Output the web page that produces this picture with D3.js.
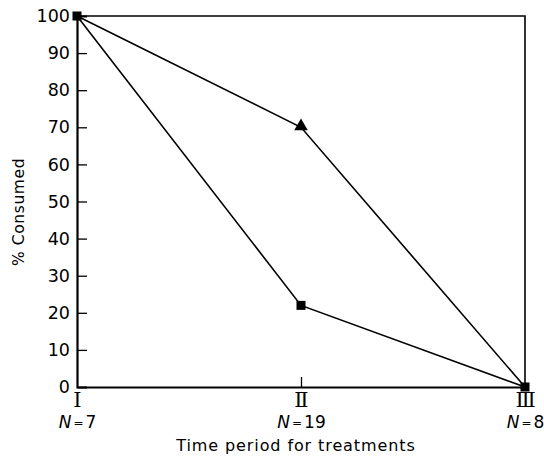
<!DOCTYPE html>
<html><head><meta charset="utf-8">
<script src="https://cdn.jsdelivr.net/npm/d3@7"></script>
<style>body{margin:0;background:#fff}svg{display:block}</style>
</head><body>
<script>
const periods = ["I", "II", "III"];
const periodGlyphs = ["\u2160", "\u2161", "\u2162"];
const nValues = ["7", "19", "8"];
const triangleSeries = [100, 70, 0];
const squareSeries = [100, 22, 0];
const yTicks = [0, 10, 20, 30, 40, 50, 60, 70, 80, 90, 100];

const W = 544, H = 458;
const m = {left: 77, top: 16, right: 19, bottom: 71};
const svg = d3.select("body").append("svg").attr("width", W).attr("height", H);
const x = d3.scalePoint().domain(periods).range([m.left, W - m.right]);
const y = d3.scaleLinear().domain([0, 100]).range([H - m.bottom, m.top]);
const font = "DejaVu Sans, sans-serif";

// frame top/right
svg.append("path")
  .attr("d", `M${x("I")},${y(100)}H${x("III")}V${y(0)}`)
  .attr("fill", "none").attr("stroke", "#000").attr("stroke-width", 1.6);

// left axis
const ya = svg.append("g").attr("transform", `translate(${m.left},0)`)
  .call(d3.axisLeft(y).tickValues(yTicks).tickSize(-10).tickPadding(7).tickFormat(d3.format("d")));
ya.select(".domain").attr("stroke-width", 2.2);
ya.selectAll(".tick line").attr("stroke-width", 1.3).filter(d => d === 0 || d === 100).remove();
ya.selectAll("text").attr("font-family", font).attr("font-size", 17.5).attr("fill", "#000");

// bottom axis
const xa = svg.append("g").attr("transform", `translate(0,${y(0)})`)
  .call(d3.axisBottom(x).tickSize(-10).tickPadding(0).tickSizeOuter(0).tickFormat((d, i) => ""));
xa.select(".domain").attr("stroke-width", 2.2);
xa.selectAll(".tick line").attr("stroke-width", 1.3).filter(d => d !== "II").remove();
xa.selectAll(".tick text").remove();
xa.selectAll(".tick").each(function(d, i) {
  const g = d3.select(this);
  g.append("text").attr("y", 20).attr("text-anchor", "middle")
    .attr("font-family", "DejaVu Serif, serif").attr("font-size", 21).attr("fill", "#000")
    .text(periodGlyphs[i]);
  const t = g.append("text").attr("y", 41).attr("text-anchor", "middle")
    .attr("font-family", font).attr("font-size", 17).attr("fill", "#000");
  t.append("tspan").attr("font-style", "italic").text("N");
  t.append("tspan").attr("font-size", 12).attr("dy", -1).attr("dx", 2).text("=");
  t.append("tspan").attr("dy", 1).attr("dx", 2).text(nValues[i]);
});

// axis titles
svg.append("text").attr("x", 296).attr("y", 451).attr("text-anchor", "middle")
  .attr("font-family", font).attr("font-size", 16).attr("letter-spacing", 0.9)
  .text("Time period for treatments");
svg.append("text").attr("transform", `translate(24,212) rotate(-90)`).attr("text-anchor", "middle")
  .attr("font-family", font).attr("font-size", 15.5).attr("letter-spacing", 0.6)
  .text("% Consumed");

// lines
const line = d3.line().x((d, i) => x(periods[i])).y(d => y(d));
[triangleSeries, squareSeries].forEach(s => {
  svg.append("path").datum(s).attr("d", line).attr("fill", "none")
    .attr("stroke", "#000").attr("stroke-width", 1.6);
});

// markers
svg.selectAll(".sq").data(squareSeries).enter().append("rect")
  .attr("x", (d, i) => x(periods[i]) - 4.5).attr("y", d => y(d) - 4.5)
  .attr("width", 9).attr("height", 9).attr("fill", "#000");
svg.append("path")
  .attr("d", d3.symbol(d3.symbolTriangle, 80)())
  .attr("transform", `translate(${x("II")},${y(triangleSeries[1]) - 1})`)
  .attr("fill", "#000");
</script>
</body></html>
